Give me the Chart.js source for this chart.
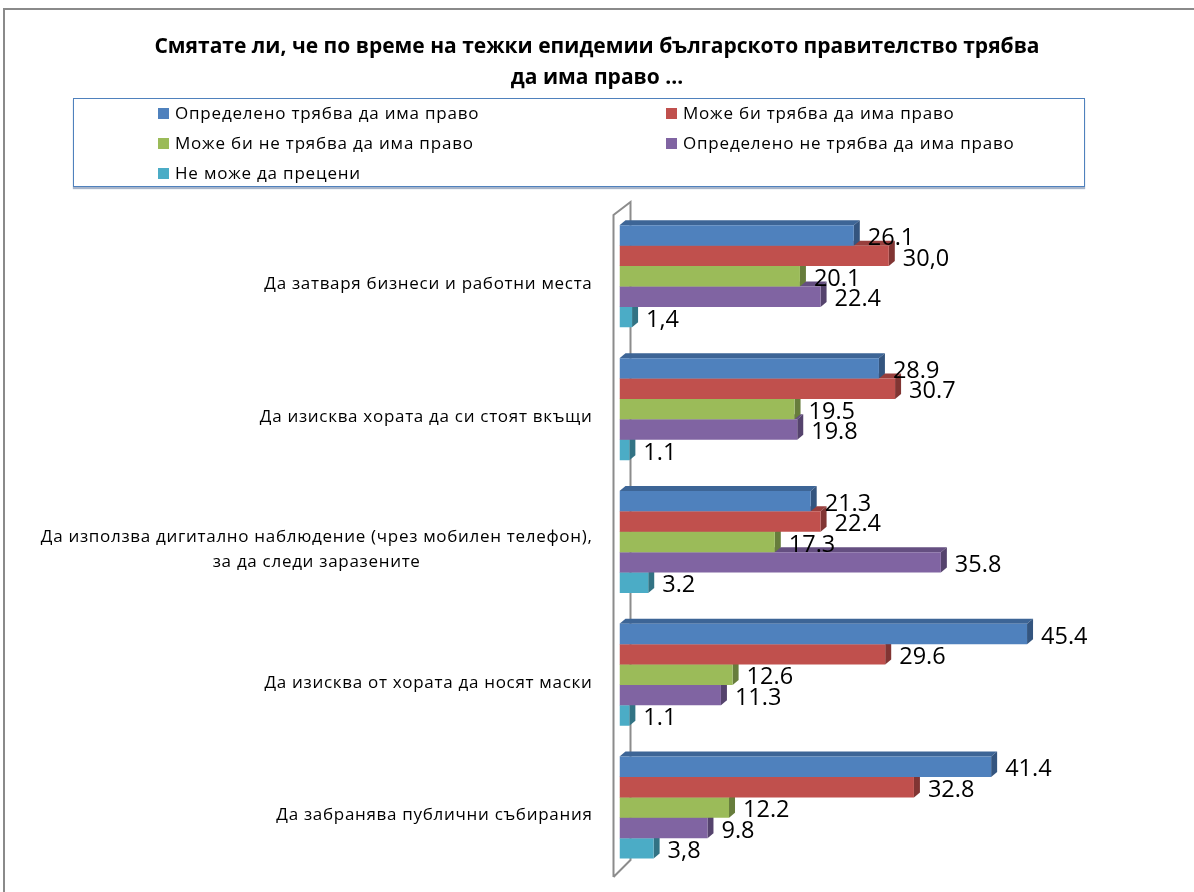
<!DOCTYPE html>
<html>
<head>
<meta charset="utf-8">
<script src="https://cdn.jsdelivr.net/npm/chart.js@4.4.1/dist/chart.umd.min.js"></script>
<style>
  body { margin: 0; background: #fff; }
  #wrap { position: relative; width: 1194px; height: 892px; overflow: hidden; font-family: "Open Sans", sans-serif; }
  #frame { position: absolute; left: 3px; top: 8px; width: 1400px; height: 1100px;
           border-left: 2px solid #8a8a8a; border-top: 2px solid #8a8a8a; }
  #chart { position: absolute; left: 0; top: 0; }
  #legend { position: absolute; left: 73px; top: 98px; width: 1010px; height: 87px;
            border: 1px solid #4f81bd; box-shadow: 0 2px 1px rgba(60, 90, 140, 0.45); background: #fff; }
  .item { position: absolute; font-size: 17px; line-height: 20px; letter-spacing: 0.8px; color: #000; white-space: nowrap; }
  .item span { display: inline-block; width: 11px; height: 11px; margin-right: 6px; vertical-align: 0px; }
</style>
</head>
<body>
<div id="wrap">
  <div id="frame"></div>
  <canvas id="chart" width="1194" height="892"></canvas>
  <div id="legend"></div>
</div>
<script>
// categories (y axis)
const categories = [
  ["Да затваря бизнеси и работни места"],
  ["Да изисква хората да си стоят вкъщи"],
  ["Да използва дигитално наблюдение (чрез мобилен телефон),", "за да следи заразените"],
  ["Да изисква от хората да носят маски"],
  ["Да забранява публични събирания"]
];

const seriesNames = [
  "Определено трябва да има право",
  "Може би трябва да има право",
  "Може би не трябва да има право",
  "Определено не трябва да има право",
  "Не може да прецени"
];

// values, %
const definitelyYes = [26.1, 28.9, 21.3, 45.4, 41.4];
const maybeYes      = [30.0, 30.7, 22.4, 29.6, 32.8];
const maybeNo       = [20.1, 19.5, 17.3, 12.6, 12.2];
const definitelyNo  = [22.4, 19.8, 35.8, 11.3, 9.8];
const cannotJudge   = [1.4, 1.1, 3.2, 1.1, 3.8];

// labels printed with a comma instead of a dot (as in the original)
const commaMarks = [[], [0], [], [], [0, 4]];

const frontColors = ["#4f81bd", "#c0504d", "#9bbb59", "#8064a2", "#4bacc6"];
const topColors   = ["#3d6596", "#983f3d", "#7a9447", "#654f81", "#3b889c"];
const sideColors  = ["#34557f", "#813533", "#677d3c", "#55436d", "#327384"];

const allSeries = [definitelyYes, maybeYes, maybeNo, definitelyNo, cannotJudge];

// html legend, two columns
const legendEl = document.getElementById("legend");
seriesNames.forEach((name, i) => {
  const d = document.createElement("div");
  d.className = "item";
  d.style.left = (i % 2 === 0 ? 84 : 592) + "px";
  d.style.top = (4 + Math.floor(i / 2) * 30) + "px";
  d.innerHTML = `<span style="background:${frontColors[i]}"></span>${name}`;
  legendEl.appendChild(d);
});

const DX = 6, DY = -5;

function poly(ctx, pts, color) {
  ctx.fillStyle = color;
  ctx.beginPath();
  ctx.moveTo(pts[0][0], pts[0][1]);
  for (let i = 1; i < pts.length; i++) ctx.lineTo(pts[i][0], pts[i][1]);
  ctx.closePath();
  ctx.fill();
}

// wall + top/side faces of the bars, drawn before the front faces
const bar3d = {
  id: "bar3d",
  beforeDatasetsDraw(chart) {
    const ctx = chart.ctx;
    const { left, top, bottom } = chart.chartArea;
    ctx.save();
    ctx.strokeStyle = "#8c8c8c";
    ctx.lineWidth = 2;
    ctx.beginPath();
    ctx.moveTo(left - 6, bottom + 3);
    ctx.lineTo(left - 6, top + 5);
    ctx.lineTo(left + 11, top - 8);
    ctx.lineTo(left + 11, bottom - 14);
    ctx.lineTo(left - 6, bottom + 3);
    ctx.stroke();

    for (let d = chart.data.datasets.length - 1; d >= 0; d--) {
      chart.getDatasetMeta(d).data.forEach(bar => {
        const p = bar.getProps(["x", "y", "base", "height"], true);
        const t = p.y - p.height / 2, b = p.y + p.height / 2;
        poly(ctx, [[p.base, t], [p.x, t], [p.x + DX, t + DY], [p.base + DX, t + DY]], topColors[d]);
        poly(ctx, [[p.x, t], [p.x + DX, t + DY], [p.x + DX, b + DY], [p.x, b]], sideColors[d]);
      });
    }
    ctx.restore();
  },
  afterDatasetsDraw(chart) {
    const ctx = chart.ctx;
    ctx.save();
    ctx.fillStyle = "#000";
    ctx.font = '23.5px "Open Sans", sans-serif';
    ctx.textAlign = "left";
    ctx.textBaseline = "middle";
    chart.data.datasets.forEach((ds, d) => {
      chart.getDatasetMeta(d).data.forEach((bar, i) => {
        const p = bar.getProps(["x", "y"], true);
        let txt = ds.data[i].toFixed(1);
        if (commaMarks[d].includes(i)) txt = txt.replace(".", ",");
        ctx.fillText(txt, p.x + 14, p.y + 3);
      });
    });

    // category labels: right edge fixed, extra lines centred under the first
    const y = chart.scales.y;
    const right = chart.chartArea.left - 27;
    ctx.font = '17px "Open Sans", sans-serif';
    ctx.letterSpacing = "0.7px";
    ctx.textAlign = "center";
    categories.forEach((lines, i) => {
      const w = Math.max(...lines.map(l => ctx.measureText(l).width));
      const cy = y.getPixelForValue(i) + 8 - (lines.length - 1) * 12.5;
      lines.forEach((l, k) => ctx.fillText(l, right - w / 2, cy + k * 25));
    });
    ctx.restore();
  }
};

new Chart(document.getElementById("chart"), {
  type: "bar",
  data: {
    labels: categories.map(c => c.join(" ")),
    datasets: allSeries.map((vals, i) => ({
      label: seriesNames[i],
      data: vals,
      backgroundColor: frontColors[i],
      borderWidth: 0,
      categoryPercentage: 0.768,
      barPercentage: 1.0
    }))
  },
  options: {
    indexAxis: "y",
    responsive: false,
    animation: false,
    layout: { padding: { top: 0, right: 0, bottom: 18, left: 0 } },
    scales: {
      x: { min: 0, max: 64, display: false },
      y: {
        grid: { display: false },
        border: { display: false },
        ticks: { display: false },
        afterFit(scale) { scale.width = 619.5; }
      }
    },
    plugins: {
      legend: { display: false },
      tooltip: { enabled: false },
      title: {
        display: true,
        text: ["Смятате ли, че по време на тежки епидемии българското правителство трябва", "да има право …"],
        color: "#000",
        font: { family: '"Open Sans", sans-serif', size: 21, weight: "bold", lineHeight: 1.45 },
        padding: { top: 32, bottom: 117 }
      }
    }
  },
  plugins: [bar3d]
});
</script>
</body>
</html>
